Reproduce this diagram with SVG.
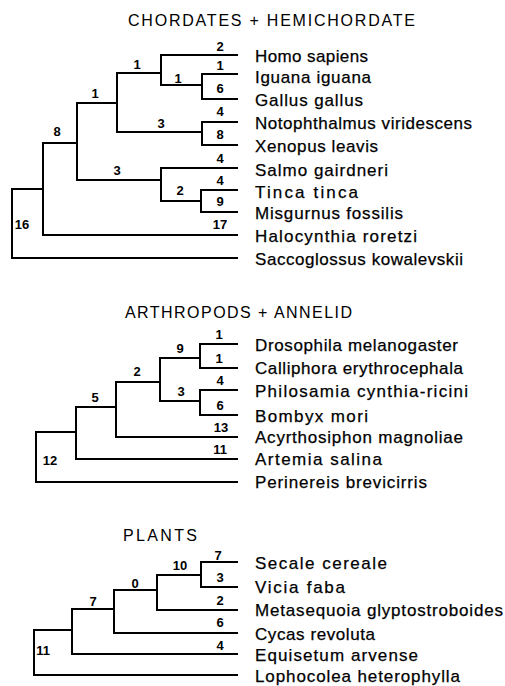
<svg xmlns="http://www.w3.org/2000/svg" width="505" height="686" viewBox="0 0 505 686">
<style>
.title{font-family:"Liberation Sans",Arial,sans-serif;font-size:16px;fill:#000}
.taxon{font-family:"Liberation Sans",Arial,sans-serif;font-size:17px;fill:#000;stroke:#000;stroke-width:0.25}
.num{font-family:"Liberation Sans",Arial,sans-serif;font-size:13px;font-weight:bold;fill:#000;text-anchor:middle}
.br{fill:none;stroke:#000;stroke-width:2;stroke-linejoin:miter;stroke-linecap:butt}
</style>
<rect width="505" height="686" fill="#fff"/>

<g id="connectors">
  <!-- Chordates + Hemichordate -->
  <path class="br" d="M43,189 H12 V258 H238"/>
  <path class="br" d="M77,143 H43 V235 H238"/>
  <path class="br" d="M117,103 H77 V180 H161"/>
  <path class="br" d="M161,73 H117 V132 H202"/>
  <path class="br" d="M238,55 H161 V85 H202"/>
  <path class="br" d="M238,74 H202 V99 H238"/>
  <path class="br" d="M238,122 H202 V145 H238"/>
  <path class="br" d="M238,168 H161 V201 H201"/>
  <path class="br" d="M238,190 H201 V212 H238"/>
  <!-- Arthropods + Annelid -->
  <path class="br" d="M76,432 H36 V482 H238"/>
  <path class="br" d="M116,407 H76 V459 H238"/>
  <path class="br" d="M160,382 H116 V437 H238"/>
  <path class="br" d="M200,358 H160 V401 H200"/>
  <path class="br" d="M238,344 H200 V368 H238"/>
  <path class="br" d="M238,390 H200 V415 H238"/>
  <!-- Plants -->
  <path class="br" d="M72,630 H34 V675 H238"/>
  <path class="br" d="M114,609 H72 V654 H238"/>
  <path class="br" d="M157,590 H114 V633 H238"/>
  <path class="br" d="M201,575 H157 V610 H238"/>
  <path class="br" d="M238,562 H201 V587 H238"/>
</g>

<!-- Section titles -->
<g id="title-chordates"><text class="title" x="128" y="25.5" textLength="287" lengthAdjust="spacing">CHORDATES + HEMICHORDATE</text></g>
<g id="title-arthropods"><text class="title" x="125" y="317.5" textLength="227" lengthAdjust="spacing">ARTHROPODS + ANNELID</text></g>
<g id="title-plants"><text class="title" x="123" y="541" textLength="74" lengthAdjust="spacing">PLANTS</text></g>

<!-- Chordate leaves -->
<g id="homo-sapiens"><text class="taxon" x="255" y="62" textLength="113" lengthAdjust="spacing">Homo sapiens</text><text class="num" x="220" y="51">2</text></g>
<g id="iguana-iguana"><text class="taxon" x="255" y="82.5" textLength="116" lengthAdjust="spacing">Iguana iguana</text><text class="num" x="220" y="70">1</text></g>
<g id="gallus-gallus"><text class="taxon" x="255" y="105.5" textLength="108" lengthAdjust="spacing">Gallus gallus</text><text class="num" x="220" y="93">6</text></g>
<g id="notophthalmus-viridescens"><text class="taxon" x="255" y="128.5" textLength="217" lengthAdjust="spacing">Notophthalmus viridescens</text><text class="num" x="220" y="116">4</text></g>
<g id="xenopus-leavis"><text class="taxon" x="255" y="152" textLength="123" lengthAdjust="spacing">Xenopus leavis</text><text class="num" x="220" y="139">8</text></g>
<g id="salmo-gairdneri"><text class="taxon" x="255" y="176" textLength="133" lengthAdjust="spacing">Salmo gairdneri</text><text class="num" x="220" y="163">4</text></g>
<g id="tinca-tinca"><text class="taxon" x="255" y="198" textLength="103" lengthAdjust="spacing">Tinca tinca</text><text class="num" x="220" y="185">4</text></g>
<g id="misgurnus-fossilis"><text class="taxon" x="255" y="219" textLength="148" lengthAdjust="spacing">Misgurnus fossilis</text><text class="num" x="220" y="206">9</text></g>
<g id="halocynthia-roretzi"><text class="taxon" x="255" y="242" textLength="162" lengthAdjust="spacing">Halocynthia roretzi</text><text class="num" x="220" y="229">17</text></g>
<g id="saccoglossus-kowalevskii"><text class="taxon" x="255" y="265" textLength="208" lengthAdjust="spacing">Saccoglossus kowalevskii</text></g>

<!-- Chordate internal nodes -->
<g id="c-node-d"><text class="num" x="137" y="69">1</text></g>
<g id="c-node-e"><text class="num" x="178" y="83">1</text></g>
<g id="c-node-f"><text class="num" x="161" y="128">3</text></g>
<g id="c-node-c"><text class="num" x="95" y="98">1</text></g>
<g id="c-node-g"><text class="num" x="117" y="175">3</text></g>
<g id="c-node-h"><text class="num" x="180" y="195">2</text></g>
<g id="c-node-b"><text class="num" x="57" y="136">8</text></g>
<g id="c-node-a"><text class="num" x="22" y="229">16</text></g>

<!-- Arthropod leaves -->
<g id="drosophila-melanogaster"><text class="taxon" x="255" y="350.5" textLength="203" lengthAdjust="spacing">Drosophila melanogaster</text><text class="num" x="219" y="339">1</text></g>
<g id="calliphora-erythrocephala"><text class="taxon" x="255" y="374" textLength="208" lengthAdjust="spacing">Calliphora erythrocephala</text><text class="num" x="219" y="363">1</text></g>
<g id="philosamia-cynthia-ricini"><text class="taxon" x="255" y="396.5" textLength="213" lengthAdjust="spacing">Philosamia cynthia-ricini</text><text class="num" x="220" y="385">4</text></g>
<g id="bombyx-mori"><text class="taxon" x="255" y="422" textLength="113" lengthAdjust="spacing">Bombyx mori</text><text class="num" x="220" y="410">6</text></g>
<g id="acyrthosiphon-magnoliae"><text class="taxon" x="255" y="442.5" textLength="208" lengthAdjust="spacing">Acyrthosiphon magnoliae</text><text class="num" x="221" y="432">13</text></g>
<g id="artemia-salina"><text class="taxon" x="255" y="465" textLength="127" lengthAdjust="spacing">Artemia salina</text><text class="num" x="220" y="454">11</text></g>
<g id="perinereis-brevicirris"><text class="taxon" x="255" y="488" textLength="172" lengthAdjust="spacing">Perinereis brevicirris</text></g>

<!-- Arthropod internal nodes -->
<g id="a-node-i"><text class="num" x="180" y="353">9</text></g>
<g id="a-node-l"><text class="num" x="181" y="396">3</text></g>
<g id="a-node-s"><text class="num" x="137" y="376">2</text></g>
<g id="a-node-q"><text class="num" x="95" y="402">5</text></g>
<g id="a-node-p"><text class="num" x="50" y="465">12</text></g>

<!-- Plant leaves -->
<g id="secale-cereale"><text class="taxon" x="255" y="569" textLength="132" lengthAdjust="spacing">Secale cereale</text><text class="num" x="218" y="560">7</text></g>
<g id="vicia-faba"><text class="taxon" x="255" y="593" textLength="90" lengthAdjust="spacing">Vicia faba</text><text class="num" x="220" y="582">3</text></g>
<g id="metasequoia-glyptostroboides"><text class="taxon" x="255" y="616" textLength="248" lengthAdjust="spacing">Metasequoia glyptostroboides</text><text class="num" x="220" y="605">2</text></g>
<g id="cycas-revoluta"><text class="taxon" x="255" y="639.5" textLength="120" lengthAdjust="spacing">Cycas revoluta</text><text class="num" x="220" y="627">6</text></g>
<g id="equisetum-arvense"><text class="taxon" x="255" y="661" textLength="163" lengthAdjust="spacing">Equisetum arvense</text><text class="num" x="220" y="650">4</text></g>
<g id="lophocolea-heterophylla"><text class="taxon" x="255" y="682" textLength="205" lengthAdjust="spacing">Lophocolea heterophylla</text></g>

<!-- Plant internal nodes -->
<g id="p-node-n"><text class="num" x="180" y="570">10</text></g>
<g id="p-node-10"><text class="num" x="135" y="588">0</text></g>
<g id="p-node-0"><text class="num" x="93" y="606">7</text></g>
<g id="p-node-7"><text class="num" x="43" y="655">11</text></g>
</svg>
